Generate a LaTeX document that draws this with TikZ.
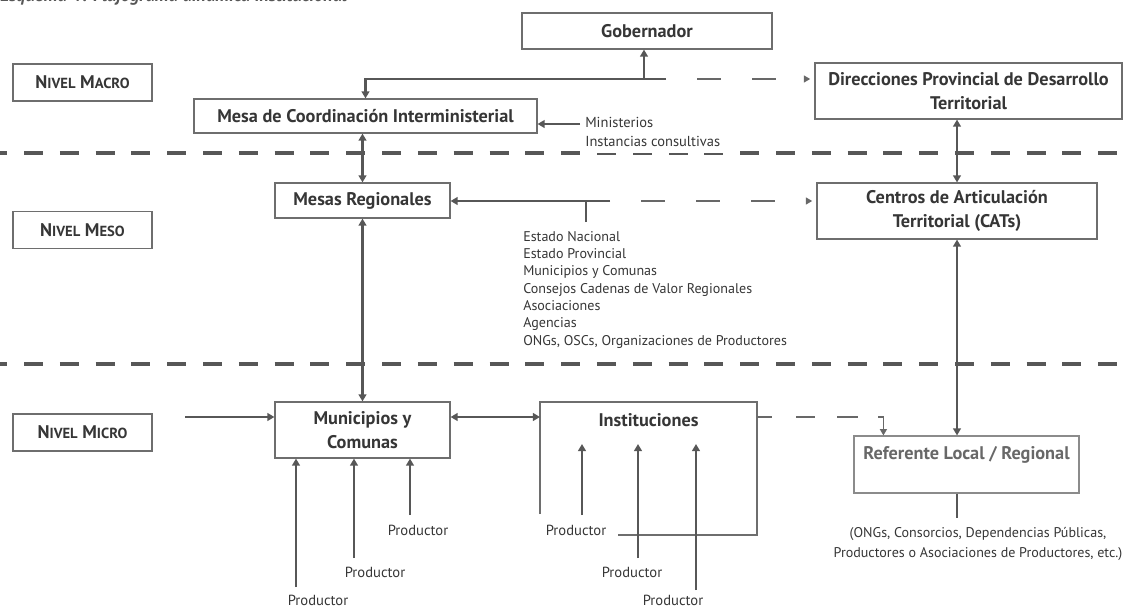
\documentclass[tikz,border=0pt]{standalone}
\usepackage{fontspec}
\setmainfont{PT Sans}
\usetikzlibrary{arrows.meta}
\definecolor{ink}{HTML}{363636}
\definecolor{wire}{HTML}{575757}
\definecolor{frame}{HTML}{6E6E6E}
\newcommand{\smcaps}[2]{#1{\fontsize{10.4}{12}\selectfont#2}}

\begin{document}
\begin{tikzpicture}[x=0.025cm,y=-0.025cm,>={Triangle[length=5pt,width=5.5pt]},
  every node/.style={text=ink},
  box/.style={draw=frame,line width=0.8pt,align=center,inner sep=0pt,font=\bfseries\fontsize{13}{17}\selectfont},
  level/.style={box,minimum width=3.475cm,minimum height=0.925cm},
  small/.style={font=\fontsize{10}{12.3}\selectfont,inner sep=0pt},
  conn/.style={draw=wire,line width=1.7pt},
  sep/.style={draw=wire,line width=0.1cm,dash pattern=on 0.475cm off 0.42cm,dash phase=0.295cm},
  faint/.style={draw=wire!90,line width=0.9pt,dash pattern=on 0.6cm off 0.775cm,dash phase=0.6cm,>={Triangle[length=4.5pt,width=5pt]}}]
  \useasboundingbox (0,0) rectangle (1124,605);

  \node[anchor=base west,inner sep=0pt,text=wire,font=\bfseries\itshape\fontsize{13}{15}\selectfont] (title) at (0,1.5) {Esquema 4: Flujograma dinámica institucional};

  \draw[sep] (0,153) -- (1124,153);
  \draw[sep] (0,364) -- (1124,364);
  \fill[white] (586,148) rectangle (738,153.4);

  \node[box,minimum width=6.25cm,minimum height=0.9cm] (gob) at (647,31) {Gobernador};
  \node[level] (macro) at (82.5,82.5) {\smcaps{N}{IVEL} \smcaps{M}{ACRO}};
  \node[box,minimum width=8.575cm,minimum height=0.85cm] (mesa) at (365.5,116) {Mesa de Coordinación Interministerial};
  \node[box,minimum width=7.675cm,minimum height=1.4cm] (dir) at (968.5,91) {Direcciones Provincial de Desarrollo\\Territorial};
  \node[level] (meso) at (82.5,230) {\smcaps{N}{IVEL} \smcaps{M}{ESO}};
  \node[box,minimum width=4.375cm,minimum height=0.875cm] (mreg) at (362.5,200.5) {Mesas Regionales};
  \node[box,minimum width=7cm,minimum height=1.4cm] (cats) at (957,211) {Centros de Articulación\\Territorial (CATs)};
  \node[level] (micro) at (82.5,432.5) {\smcaps{N}{IVEL} \smcaps{M}{ICRO}};
  \node[box,minimum width=4.375cm,minimum height=1.4cm] (mun) at (362.5,430) {Municipios y\\Comunas};
  \node[font=\bfseries\fontsize{13}{17}\selectfont] (inst) at (648.5,420) {Instituciones};
  \node[box,draw=frame!80,text=ink!75,minimum width=5.625cm,minimum height=1.425cm] (ref) at (966.5,464.5) {Referente Local / Regional\\\mbox{}};
  \draw[draw=frame,line width=0.8pt] (540,514) |- (757,402) |- (618,535);

  \coordinate (jgob) at (644,79);
  \coordinate (jend) at (666,79);
  \draw[conn,->] (jgob) -- (jgob |- gob.south);
  \draw[conn,->] (jend) -| (mesa.north);
  \draw[faint,->,shorten >=3pt] (jend) -- (jend -| dir.west);

  \coordinate (minarr) at (580,124);
  \draw[conn,->] (minarr) -- (minarr -| mesa.east);
  \node[small,anchor=north west,align=left,font=\fontsize{10.3}{13.5}\selectfont] (mins) at (585,117) {Ministerios\\Instancias consultivas};

  \draw[conn,<->] (mreg.north |- mesa.south) -- (mreg.north);
  \draw[conn,<->] (cats.north |- dir.south) -- (cats.north);

  \coordinate (tick) at (586,222);
  \coordinate (jreg) at (610,201);
  \draw[conn] (tick) -- (tick |- jreg);
  \draw[conn,->] (jreg) -- (jreg -| mreg.east);
  \draw[faint,->,shorten >=3pt] (jreg) -- (jreg -| cats.west);
  \node[small,anchor=north west,align=left] (actors) at (523,231) {Estado Nacional\\Estado Provincial\\Municipios y Comunas\\Consejos Cadenas de Valor Regionales\\Asociaciones\\Agencias\\ONGs, OSCs, Organizaciones de Productores};

  \draw[conn,<->] (mreg.south) -- (mun.north);
  \draw[conn,<->] (cats.south) -- (cats.south |- ref.north);

  \coordinate (micin) at (185,417);
  \draw[conn,->] (micin) -- (micin -| mun.west);
  \coordinate (instL) at (540,417);
  \coordinate (instR) at (757,417);
  \coordinate (instfoot) at (648,444);
  \draw[conn,<->] (instL -| mun.east) -- (instL);
  \draw[draw=wire!90,line width=0.9pt,dash pattern=on 0.375cm off 0.6cm on 0.475cm off 0.55cm on 0.525cm off 0.5cm on 1.5cm,->,>={Triangle[length=4.5pt,width=5pt]}] (instR) -| ([xshift=0.75cm]ref.north west);

  \draw[conn] (ref.south -| cats.south) -- ++(0,24);
  \node[small,align=center,font=\fontsize{10}{14.2}\selectfont] (orgs) at (978,544) {(ONGs, Consorcios, Dependencias Públicas,\\Productores o Asociaciones de Productores, etc.)};

  \node[small,font=\fontsize{10.4}{12}\selectfont] (pm1) at (418,530) {Productor};
  \node[small,font=\fontsize{10.4}{12}\selectfont] (pm2) at (375,572) {Productor};
  \node[small,font=\fontsize{10.4}{12}\selectfont] (pm3) at (318,600) {Productor};
  \foreach \x/\y in {410/515,354/558,296/587}
    \draw[conn,->] (\x,\y) coordinate (p) -- (p |- mun.south);

  \node[small,font=\fontsize{10.4}{12}\selectfont] (pi1) at (576,530) {Productor};
  \node[small,font=\fontsize{10.4}{12}\selectfont] (pi2) at (632,572) {Productor};
  \node[small,font=\fontsize{10.4}{12}\selectfont] (pi3) at (673,600) {Productor};
  \foreach \x/\y in {582/515,638/558,696/590}
    \draw[conn,->] (\x,\y) coordinate (q) -- (q |- instfoot);
\end{tikzpicture}
\end{document}
